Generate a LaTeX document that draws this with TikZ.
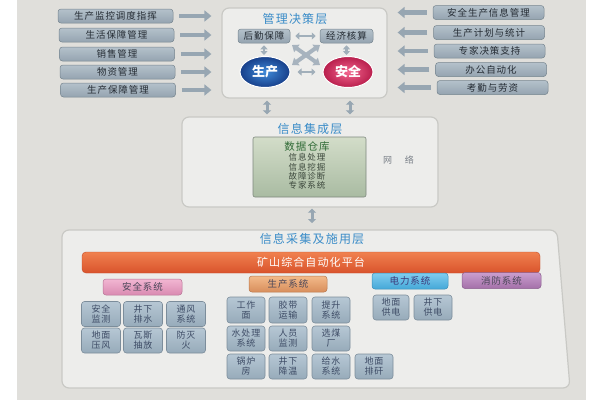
\documentclass[tikz,border=0pt]{standalone}
\usepackage{fontspec}
\setmainfont{Noto Sans CJK SC}
\newfontfamily\spaced[LetterSpace=10]{Noto Sans CJK SC}
\usetikzlibrary{arrows.meta,shapes.geometric}
\definecolor{photobg}{HTML}{E0DFDB}
\definecolor{panelfill}{HTML}{EDEDEB}
\definecolor{panelline}{HTML}{C9C9C5}
\definecolor{listtop}{HTML}{B4C1CB}
\definecolor{listbot}{HTML}{95A4B0}
\definecolor{listline}{HTML}{76858F}
\definecolor{listtext}{HTML}{252C34}
\definecolor{arrowc}{HTML}{97A6B2}
\definecolor{titlec}{HTML}{3A8CC8}
\definecolor{sbtop}{HTML}{B6C7D4}
\definecolor{sbbot}{HTML}{97ABBA}
\definecolor{sbline}{HTML}{7C8D9B}
\definecolor{sbtext}{HTML}{3E4C66}
\definecolor{greentop}{HTML}{D3DDC9}
\definecolor{greenbot}{HTML}{A9BBA2}
\definecolor{greenline}{HTML}{7E887E}
\definecolor{greentitle}{HTML}{2F6A35}
\definecolor{greentext}{HTML}{3B473B}
\definecolor{orangetop}{HTML}{F0814F}
\definecolor{orangebot}{HTML}{D9532C}
\definecolor{pinktop}{HTML}{F2B6D2}
\definecolor{pinkbot}{HTML}{D98AB1}
\definecolor{tantop}{HTML}{F3BA8A}
\definecolor{tanbot}{HTML}{D88E5C}
\definecolor{bluetop}{HTML}{80CDEF}
\definecolor{bluebot}{HTML}{45A8D8}
\definecolor{purptop}{HTML}{CA9ECE}
\definecolor{purpbot}{HTML}{A470A9}
\definecolor{cattext}{HTML}{4A4658}
\definecolor{blueinner}{HTML}{3F8AD8}
\definecolor{blueouter}{HTML}{173F8A}
\definecolor{pinkinner}{HTML}{F3658E}
\definecolor{pinkouter}{HTML}{B81E4C}
\definecolor{netc}{HTML}{7A8088}
\begin{document}
\begin{tikzpicture}[x=1pt,y=-1pt,
  panel/.style={draw=panelline,fill=panelfill,line width=1.2pt,rounded corners=7pt,inner sep=0pt},
  title/.style={text=titlec,font=\spaced\fontsize{12}{12}\selectfont,inner sep=0pt},
  listbox/.style={rounded corners=3pt,top color=listtop,bottom color=listbot,draw=listline,line width=0.5pt,
    minimum width=115pt,minimum height=14pt,inner sep=0pt,text=listtext,font=\spaced\fontsize{9.5}{9.5}\selectfont},
  rlistbox/.style={listbox,minimum width=111pt},
  innerbox/.style={listbox,minimum width=52pt},
  bigarr/.style={line width=4.5pt,draw=arrowc,-{Triangle[length=7pt,width=11pt]}},
  vdbl/.style={line width=3pt,draw=arrowc,{Triangle[length=4pt,width=8pt]}-{Triangle[length=4pt,width=8pt]}},
  sdbl/.style={line width=2.6pt,draw=arrowc!90!white,{Triangle[length=4pt,width=7pt]}-{Triangle[length=4pt,width=7pt]}},
  xarr/.style={line width=4pt,draw=arrowc!85!white,{Triangle[length=6pt,width=9pt]}-{Triangle[length=6pt,width=9pt]}},
  ball/.style={ellipse,minimum width=50pt,minimum height=31pt,inner sep=0pt,text=white,draw=white,line width=1pt,
    font=\bfseries\fontsize{13}{13}\selectfont},
  smallbox/.style={rounded corners=3pt,top color=sbtop,bottom color=sbbot,draw=sbline,line width=0.6pt,
    minimum width=38pt,minimum height=25pt,inner sep=0pt,text=sbtext,align=center,
    font=\spaced\fontsize{9}{10}\selectfont},
  catbox/.style={rounded corners=3pt,line width=0.5pt,minimum width=79pt,minimum height=16pt,inner sep=0pt,
    text=cattext,font=\spaced\fontsize{9.5}{9.5}\selectfont},
  gtext/.style={text=greentext,font=\spaced\fontsize{8.5}{8.5}\selectfont,inner sep=0pt}
]
\useasboundingbox (0,0) rectangle (600,400);
\fill[white] (0,0) rectangle (600,400);
\fill[photobg] (17,0) rectangle (586,400);

% ---------- top panel ----------
\node[panel,minimum width=165pt,minimum height=90pt] (top) at (304.5,53) {};
\node[title] (ttop) at (295,19) {管理决策层};
\node[innerbox] (hq) at (264,36) {后勤保障};
\node[innerbox,minimum width=53pt] (jj) at (346.5,36) {经济核算};
\node[ball,inner color=blueinner,outer color=blueouter] (sc) at (265,72) {生产};
\node[ball,inner color=pinkinner,outer color=pinkouter] (aq) at (348,72) {安全};
\draw[sdbl] ([xshift=5pt]hq.east) -- ([xshift=-4pt]jj.west);
\draw[sdbl] ([xshift=7pt]sc.east) -- ([xshift=-7pt]aq.west);
\draw[sdbl,shorten <=2pt,shorten >=1pt] (hq.south) -- (hq.south |- sc.north);
\draw[sdbl,shorten <=2pt,shorten >=1pt] (jj.south) -- (jj.south |- aq.north);
\coordinate (xa) at (292,45);
\coordinate (xb) at (320,65);
\coordinate (xc) at (320,45);
\coordinate (xd) at (292,65);
\draw[xarr] (xa) -- (xb);
\draw[xarr] (xc) -- (xd);

% ---------- left list ----------
\node[listbox] (l1) at (115.5,16) {生产监控调度指挥};
\node[listbox] (l2) at (116.5,35) {生活保障管理};
\node[listbox] (l3) at (117,54) {销售管理};
\node[listbox] (l4) at (117.5,72) {物资管理};
\node[listbox] (l5) at (118,90) {生产保障管理};
\foreach \n in {l1,l2,l3,l4,l5}{
  \draw[bigarr] ([xshift=6pt]\n.east) -- ([xshift=-10pt]\n.east -| top.west);
}

% ---------- right list ----------
\node[rlistbox] (r1) at (488.5,12.5) {安全生产信息管理};
\node[rlistbox] (r2) at (489,32.5) {生产计划与统计};
\node[rlistbox] (r3) at (489.5,51) {专家决策支持};
\node[rlistbox] (r4) at (491,69.5) {办公自动化};
\node[rlistbox] (r5) at (492.5,87.5) {考勤与劳资};
\foreach \n in {r1,r2,r3,r4,r5}{
  \draw[bigarr] ([xshift=-6pt]\n.west) -- ([xshift=10pt]\n.west -| top.east);
}

% ---------- middle panel ----------
\node[panel,minimum width=256pt,minimum height=90pt] (mid) at (310,162) {};
\node[title] (tmid) at (310,129) {信息集成层};
\node[rounded corners=2pt,top color=greentop,bottom color=greenbot,draw=greenline,line width=0.6pt,
  minimum width=113pt,minimum height=60pt,inner sep=0pt] (dw) at (309.5,167) {};
\node[text=greentitle,font=\spaced\fontsize{10.5}{10.5}\selectfont,inner sep=0pt] (g0) at (307,147) {数据仓库};
\node[gtext] (g1) at (307,157) {信息处理};
\node[gtext] (g2) at (307,167) {信息挖掘};
\node[gtext] (g3) at (307,176) {故障诊断};
\node[gtext] (g4) at (307,185.5) {专家系统};
\node[text=netc,font=\fontsize{9}{9}\selectfont,inner sep=0pt] (net) at (398.5,160) {网\hspace{13pt}络};

\draw[vdbl] ([yshift=-2pt]top.south -| 267,0) -- ([yshift=2pt]mid.north -| 267,0);
\draw[vdbl] ([yshift=-2pt]top.south -| 350,0) -- ([yshift=2pt]mid.north -| 350,0);

% ---------- bottom panel ----------
\draw[panel] (62,230) -- (557,230) -- (570,388) -- (62,388) -- cycle;
\coordinate (bp) at (312,230);
\draw[vdbl] ([yshift=-1pt]mid.south -| bp) -- ([yshift=7pt]bp);
\node[title] (tbot) at (312,238.5) {信息采集及施用层};
\node[rounded corners=4pt,top color=orangetop,bottom color=orangebot,draw=orangebot!90!black,line width=0.4pt,
  minimum width=458pt,minimum height=21pt,inner sep=0pt,text=white,
  font=\spaced\fontsize{11}{11}\selectfont] (bar) at (311,262.5) {矿山综合自动化平台};

\node[catbox,top color=pinktop,bottom color=pinkbot,draw=pinkbot!85!black] (cs) at (142.5,287) {安全系统};
\node[catbox,top color=tantop,bottom color=tanbot,draw=tanbot!85!black,minimum width=78pt] (cp) at (288,284) {生产系统};
\node[catbox,top color=bluetop,bottom color=bluebot,draw=bluebot!85!black,minimum width=76pt,text=cattext!80!blue] (ce) at (410,281) {电力系统};
\node[catbox,top color=purptop,bottom color=purpbot,draw=purpbot!85!black] (cf) at (501.5,280.5) {消防系统};

% safety boxes
\node[smallbox,minimum width=39pt] (s1) at (101,314) {安全\\监测};
\node[smallbox,minimum width=39pt] (s2) at (143,314) {井下\\排水};
\node[smallbox,minimum width=39pt] (s3) at (186,314) {通风\\系统};
\node[smallbox,minimum width=39pt] (s4) at (101,340.5) {地面\\压风};
\node[smallbox,minimum width=39pt] (s5) at (143,340.5) {瓦斯\\抽放};
\node[smallbox,minimum width=39pt] (s6) at (186,340.5) {防灭\\火};

% production boxes
\node[smallbox,minimum height=26pt] (p1) at (246,310) {工作\\面};
\node[smallbox,minimum height=26pt] (p2) at (288,310) {胶带\\运输};
\node[smallbox,minimum height=26pt] (p3) at (331,310) {提升\\系统};
\node[smallbox] (p4) at (246,338.5) {水处理\\系统};
\node[smallbox] (p5) at (288,338.5) {人员\\监测};
\node[smallbox] (p6) at (331,338.5) {选煤\\厂};
\node[smallbox] (p7) at (246,366.5) {锅炉\\房};
\node[smallbox] (p8) at (288,366.5) {井下\\降温};
\node[smallbox] (p9) at (331,366.5) {给水\\系统};
\node[smallbox] (p10) at (374,366.5) {地面\\排矸};

% power boxes
\node[smallbox,minimum width=36pt] (e1) at (391,307.5) {地面\\供电};
\node[smallbox] (e2) at (433,307.5) {井下\\供电};
\end{tikzpicture}
\end{document}
